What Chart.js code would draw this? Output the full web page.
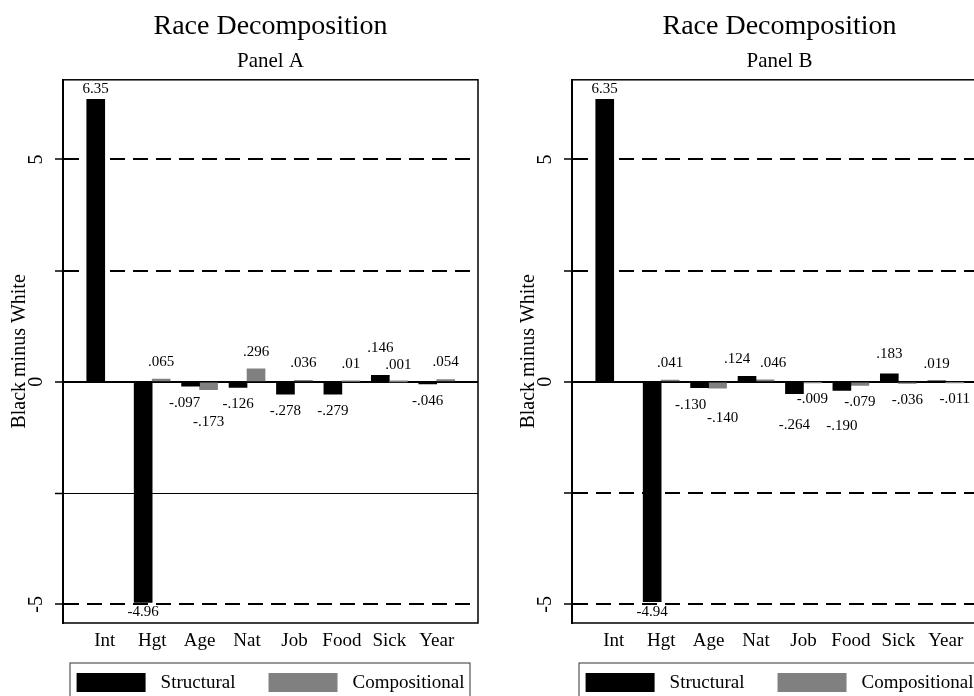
<!DOCTYPE html>
<html>
<head>
<meta charset="utf-8">
<script src="https://cdn.jsdelivr.net/npm/chart.js@4/dist/chart.umd.min.js"></script>
<style>
  html, body { margin: 0; padding: 0; background: #fff; }
  #wrap { position: relative; width: 974px; height: 696px; overflow: hidden; }
  .panel { position: absolute; top: 0; width: 509px; height: 702px; }
</style>
</head>
<body>
<div id="wrap">
  <div class="panel" style="left:0"><canvas id="panelA" width="509" height="702"></canvas></div>
  <div class="panel" style="left:509px"><canvas id="panelB" width="509" height="702"></canvas></div>
</div>
<script>
const categories = ["Int", "Hgt", "Age", "Nat", "Job", "Food", "Sick", "Year"];
const structuralA = [6.35, -4.96, -0.097, -0.126, -0.278, -0.279, 0.146, -0.046];
const compositionalA = [null, 0.065, -0.173, 0.296, 0.036, 0.01, 0.001, 0.054];
const structuralB = [6.35, -4.94, -0.130, 0.124, -0.264, -0.190, 0.183, 0.019];
const compositionalB = [null, 0.041, -0.140, 0.046, -0.009, -0.079, -0.036, -0.011];
const yTicks = [-5, -2.5, 0, 2.5, 5];
const yTickLabels = ["-5", "", "0", "", "5"];

const serif = "'Liberation Serif', 'Times New Roman', serif";
Chart.defaults.font.family = serif;
Chart.defaults.color = "#000";

// small shifts of some value labels so they don't run into each other
const nudgesA = [{ 2: [-6, 0], 6: [0, -10] }, { 2: [0, 15] }];
const nudgesB = [
  { 2: [-9, 0], 3: [-10, 0], 4: [0, 14], 5: [0, 19], 6: [0, -3] },
  { 2: [5, 13], 3: [8, 0] }
];

function fmt(v, fixed) {
  let s = fixed && Math.abs(v) < 1 ? v.toFixed(3) : String(v);
  return s.replace(/^(-?)0\./, "$1.");
}

function valueLabels(nudges, fixed) {
  return {
    id: "valueLabels",
    afterDatasetsDraw(chart) {
      const ctx = chart.ctx;
      ctx.save();
      ctx.font = "15px " + serif;
      ctx.fillStyle = "#000";
      ctx.textAlign = "center";
      ctx.textBaseline = "middle";
      chart.data.datasets.forEach((ds, di) => {
        const meta = chart.getDatasetMeta(di);
        meta.data.forEach((bar, i) => {
          const v = ds.data[i].y;
          if (v === null) return;
          const gap = Math.abs(v) > 1 ? 10 : 17;
          const n = (nudges[di] && nudges[di][i]) || [0, 0];
          const y = v >= 0 ? bar.y - gap : bar.y + gap;
          ctx.fillText(fmt(v, fixed), bar.x + n[0], y + n[1]);
        });
      });
      ctx.restore();
    }
  };
}

const frameAndAxis = {
  id: "frameAndAxis",
  afterDraw(chart) {
    const { ctx, chartArea } = chart;
    const ys = chart.scales.y;
    ctx.save();
    // plot frame
    ctx.strokeStyle = "#000";
    ctx.lineWidth = 1.5;
    ctx.strokeRect(chartArea.left, chartArea.top, chartArea.right - chartArea.left, chartArea.bottom - chartArea.top);
    // rotated y tick labels
    ctx.font = "20px " + serif;
    ctx.fillStyle = "#000";
    ctx.textAlign = "center";
    ctx.textBaseline = "middle";
    yTicks.forEach((v, i) => {
      if (!yTickLabels[i]) return;
      ctx.save();
      ctx.translate(37, ys.getPixelForValue(v));
      ctx.rotate(-Math.PI / 2);
      ctx.fillText(yTickLabels[i], 0, 0);
      ctx.restore();
    });
    // legend in a box under the axis
    const top = chartArea.bottom + 40;
    const left = chartArea.left + 7;
    const right = chartArea.right - 8;
    ctx.lineWidth = 1;
    ctx.strokeStyle = "#333";
    ctx.strokeRect(left, top, right - left, chart.height - top + 5);
    ctx.font = "19px " + serif;
    ctx.textAlign = "left";
    const sw = 69, sh = 19, gapText = 15, gapItem = 33;
    const items = chart.data.datasets.map(ds => ({ text: ds.label, color: ds.backgroundColor, w: ctx.measureText(ds.label).width }));
    let total = items.reduce((a, it) => a + sw + gapText + it.w, 0) + gapItem * (items.length - 1);
    let x = (chartArea.left + chartArea.right) / 2 - total / 2;
    items.forEach(it => {
      ctx.fillStyle = it.color;
      ctx.fillRect(x, top + 10, sw, sh);
      ctx.fillStyle = "#000";
      ctx.fillText(it.text, x + sw + gapText, top + 20);
      x += sw + gapText + it.w + gapItem;
    });
    ctx.restore();
  }
};

function makeChart(id, panel, structural, compositional, nudges, fixed, solidNeg) {
  const ctx = document.getElementById(id).getContext("2d");
  return new Chart(ctx, {
    type: "bar",
    data: {
      datasets: [
        {
          label: "Structural",
          data: structural.map((v, i) => ({ x: i, y: v })),
          backgroundColor: "#000000",
          borderWidth: 0,
          barThickness: 18
        },
        {
          label: "Compositional",
          data: compositional.map((v, i) => ({ x: i, y: v })),
          backgroundColor: "#808080",
          borderWidth: 0,
          barThickness: 18
        }
      ]
    },
    options: {
      responsive: false,
      animation: false,
      devicePixelRatio: 1,
      layout: { padding: { left: 0, right: 31, top: 0, bottom: 39 } },
      plugins: {
        legend: { display: false },
        tooltip: { enabled: false },
        title: {
          display: true,
          fullSize: false,
          text: "Race Decomposition",
          color: "#000",
          font: { size: 28, weight: "normal" },
          padding: { top: 10, bottom: 0 }
        },
        subtitle: {
          display: true,
          fullSize: false,
          text: panel,
          color: "#000",
          font: { size: 21, weight: "normal" },
          padding: { top: 5, bottom: 6 }
        }
      },
      scales: {
        x: {
          type: "linear",
          min: -0.88,
          max: 7.87,
          offset: false,
          afterBuildTicks: (s) => { s.ticks = categories.map((c, i) => ({ value: i })); },
          afterFit: (s) => { s.height = 40; },
          grid: { display: false, drawTicks: false },
          border: { display: false },
          ticks: {
            autoSkip: false,
            maxRotation: 0,
            padding: 7,
            color: "#000",
            font: { size: 19 },
            callback: (v) => categories[v]
          }
        },
        y: {
          min: -5.42,
          max: 6.79,
          afterBuildTicks: (s) => { s.ticks = yTicks.map(v => ({ value: v })); },
          afterFit: (s) => { s.width = 63; },
          ticks: { display: false },
          grid: {
            color: "#000",
            lineWidth: (c) => {
              if (!c.tick) return 1;
              if (c.tick.value === 0) return 2;
              if (solidNeg && c.tick.value === -2.5) return 1;
              return 2;
            },
            tickLength: 8,
            tickColor: "#000",
            tickWidth: 1.5
          },
          border: {
            display: true,
            color: "#000",
            width: 2,
            dash: (c) => {
              if (!c.tick) return [];
              if (c.tick.value === 0) return [];
              if (solidNeg && c.tick.value === -2.5) return [];
              return [15, 8];
            }
          },
          title: {
            display: true,
            text: "Black minus White",
            color: "#000",
            font: { size: 20 },
            padding: { top: 8, bottom: 0 }
          }
        }
      }
    },
    plugins: [valueLabels(nudges, fixed), frameAndAxis]
  });
}

makeChart("panelA", "Panel A", structuralA, compositionalA, nudgesA, false, true);
makeChart("panelB", "Panel B", structuralB, compositionalB, nudgesB, true, false);
</script>
</body>
</html>
